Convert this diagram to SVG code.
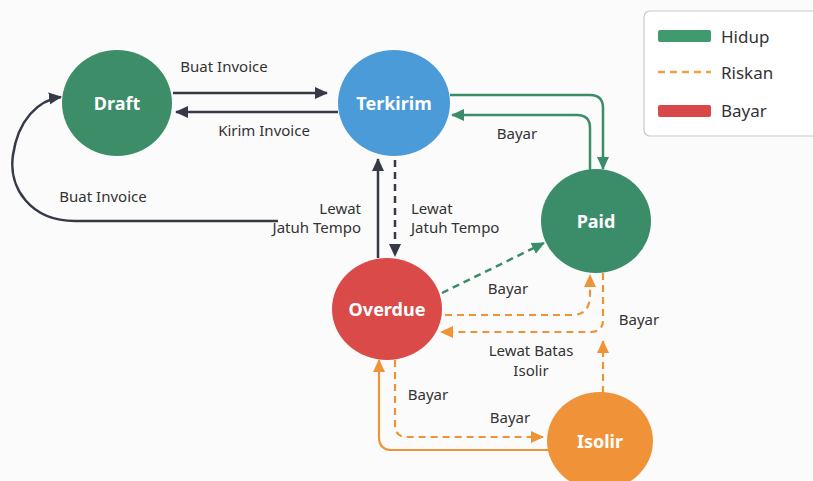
<svg xmlns="http://www.w3.org/2000/svg" width="813" height="481" viewBox="0 0 813 481">
<style>
.node-label{font-family:"Noto Sans","Open Sans",sans-serif;font-size:18px;font-weight:bold;fill:#ffffff;text-anchor:middle;dominant-baseline:central}
.lbl{font-family:"Noto Sans","Open Sans",sans-serif;font-size:15px;fill:#333333}
.leg{font-family:"Noto Sans","Open Sans",sans-serif;font-size:17px;fill:#333333;dominant-baseline:central}
.dark{fill:none;stroke:#363a47;stroke-width:2.5}
.green{fill:none;stroke:#3b8c68;stroke-width:2.5}
.orange{fill:none;stroke:#ee9436;stroke-width:2.2}
.dash{stroke-dasharray:7 5}
</style>
<defs>
<marker id="ad" markerUnits="userSpaceOnUse" markerWidth="14" markerHeight="14" refX="12" refY="7" orient="auto"><path d="M0,1 L13,7 L0,13 Z" fill="#363a47"/></marker>
<marker id="ag" markerUnits="userSpaceOnUse" markerWidth="14" markerHeight="14" refX="12" refY="7" orient="auto"><path d="M0,1 L13,7 L0,13 Z" fill="#3b8c68"/></marker>
<marker id="ao" markerUnits="userSpaceOnUse" markerWidth="14" markerHeight="14" refX="12" refY="7" orient="auto"><path d="M0,1 L13,7 L0,13 Z" fill="#ee9436"/></marker>
</defs>
<rect width="813" height="481" fill="#fbfbfb"/>
<g id="connectors">
<path class="dark" d="M173,93 H327" marker-end="url(#ad)"/>
<path class="dark" d="M338,112 H176" marker-end="url(#ad)"/>
<path class="dark" d="M278,221 H75 C30,221 8,187 13,155 C18,120 38,100 61,97" marker-end="url(#ad)"/>
<path class="dark" d="M378,258 V159" marker-end="url(#ad)"/>
<path class="dark dash" d="M395,160 V256" marker-end="url(#ad)"/>
<path class="green" d="M450,95 H590 Q603,95 603,108 V169" marker-end="url(#ag)"/>
<path class="green" d="M590,170 V128 Q590,115 577,115 H452" marker-end="url(#ag)"/>
<path class="green dash" d="M442,293 L544,243" marker-end="url(#ag)"/>
<path class="orange dash" d="M445,315 H572 Q590,315 590,295 V275" marker-end="url(#ao)"/>
<path class="orange dash" d="M603,273 V320 Q603,332 591,332 H441" marker-end="url(#ao)"/>
<path class="orange dash" d="M603,393 V341" marker-end="url(#ao)"/>
<path class="orange dash" d="M395,360 V425 Q395,437 407,437 H543" marker-end="url(#ao)"/>
<path class="orange" d="M550,450 H392 Q379,450 379,437 V360" marker-end="url(#ao)"/>
</g>
<g id="edge-labels">
<text class="lbl" x="224" y="72" text-anchor="middle">Buat Invoice</text>
<text class="lbl" x="264" y="136" text-anchor="middle">Kirim Invoice</text>
<text class="lbl" x="103" y="202" text-anchor="middle">Buat Invoice</text>
<text class="lbl" x="361" y="214" text-anchor="end">Lewat</text>
<text class="lbl" x="361" y="233" text-anchor="end">Jatuh Tempo</text>
<text class="lbl" x="411" y="214">Lewat</text>
<text class="lbl" x="411" y="233">Jatuh Tempo</text>
<text class="lbl" x="517" y="139" text-anchor="middle">Bayar</text>
<text class="lbl" x="508" y="294" text-anchor="middle">Bayar</text>
<text class="lbl" x="639" y="325" text-anchor="middle">Bayar</text>
<text class="lbl" x="531" y="356" text-anchor="middle">Lewat Batas</text>
<text class="lbl" x="531" y="376" text-anchor="middle">Isolir</text>
<text class="lbl" x="428" y="400" text-anchor="middle">Bayar</text>
<text class="lbl" x="510" y="423" text-anchor="middle">Bayar</text>
</g>
<g id="node-draft"><ellipse cx="117" cy="103" rx="55" ry="53" fill="#3d8d69"/><text class="node-label" x="117" y="103">Draft</text></g>
<g id="node-terkirim"><ellipse cx="394" cy="103" rx="56" ry="53" fill="#4a9bd8"/><text class="node-label" x="394" y="103">Terkirim</text></g>
<g id="node-paid"><ellipse cx="596" cy="221" rx="55" ry="52" fill="#3b8c68"/><text class="node-label" x="596" y="221">Paid</text></g>
<g id="node-overdue"><ellipse cx="387" cy="309" rx="55" ry="51" fill="#da4a48"/><text class="node-label" x="387" y="309">Overdue</text></g>
<g id="node-isolir"><ellipse cx="600" cy="441" rx="53" ry="49" fill="#ef9238"/><text class="node-label" x="600" y="441">Isolir</text></g>
<g id="legend">
<rect x="644" y="11" width="180" height="125" rx="6" fill="#ffffff" stroke="#c9c9c9" stroke-width="1.2"/>
<rect x="658" y="30" width="53" height="12" rx="2" fill="#3f9a6e"/>
<text class="leg" x="721" y="36">Hidup</text>
<line x1="658" y1="72" x2="711" y2="72" stroke="#f0a040" stroke-width="2.5" stroke-dasharray="7 5"/>
<text class="leg" x="721" y="72">Riskan</text>
<rect x="658" y="105" width="53" height="12" rx="2" fill="#d94848"/>
<text class="leg" x="721" y="110">Bayar</text>
</g>
</svg>
